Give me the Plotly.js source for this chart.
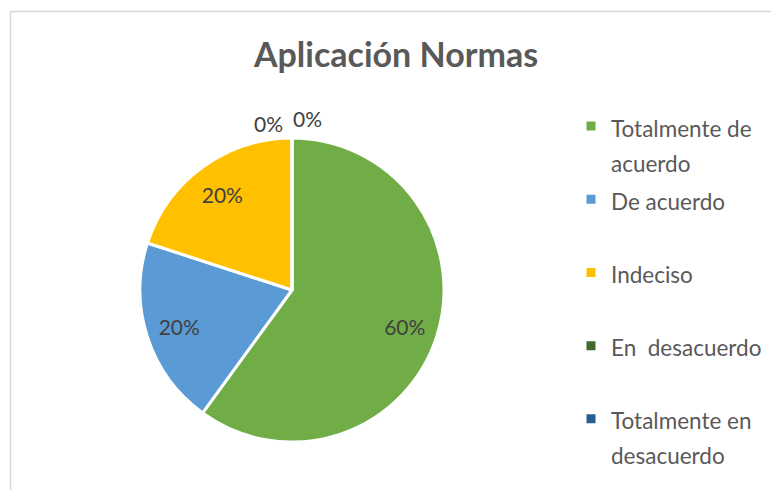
<!DOCTYPE html>
<html>
<head>
<meta charset="utf-8">
<script src="https://cdn.plot.ly/plotly-3.0.1.min.js"></script>
<style>html,body{margin:0;padding:0;background:#fff}#chart{width:771px;height:490px}</style>
</head>
<body>
<div id="chart"></div>
<script>
const categories = ["Totalmente de<br>acuerdo", "De acuerdo", "Indeciso", "En  desacuerdo", "Totalmente en<br>desacuerdo"];
const values = [60, 20, 20, 0, 0];
const colors = ["#70AD47", "#5B9BD5", "#FFC000", "#43682B", "#255E91"];
const chartTitle = "Aplicación Normas";

const W = 771, H = 490;
const font = "Lato, 'Open Sans', sans-serif";
const total = values.reduce((a, b) => a + b, 0);
const pieDomain = {x: [140 / W, 444 / W], y: [1 - 442 / H, 1 - 138 / H]};

// legend labels: every entry on two lines, drawn at 22.5px inside a 27px legend font (for Excel-like spacing)
const legendLabels = categories.map(c => {
  const lines = c.split("<br>");
  while (lines.length < 2) lines.push("&nbsp;");
  return lines.map(l => "<span style=\"font-size:22.5px\">" + l + "</span>").join("<br>");
});

const pie = {
  type: "pie",
  labels: legendLabels,
  values: values,
  sort: false,
  direction: "clockwise",
  rotation: 0,
  marker: {colors: colors, line: {color: "#ffffff", width: 3}},
  textinfo: "none",
  hoverinfo: "skip",
  domain: pieDomain
};

// transparent ring carrying the data labels at ~0.78 of the radius
const labelRing = {
  type: "pie",
  labels: legendLabels,
  values: values,
  sort: false,
  direction: "clockwise",
  rotation: 0,
  hole: 0.56,
  showlegend: false,
  marker: {colors: values.map(() => "rgba(0,0,0,0)"), line: {width: 0}},
  texttemplate: "%{percent:.0%}",
  textposition: values.map(v => v > 0 ? "inside" : "none"),
  insidetextorientation: "horizontal",
  textfont: {family: font, size: 21, color: "#404040"},
  hoverinfo: "skip",
  domain: pieDomain
};

// labels of the zero slices, set side by side above the top of the pie as in the original
const zeroPos = [[268 / W, 1 - 124 / H], [307 / W, 1 - 118 / H]];
const zeroIdx = values.map((v, i) => v === 0 ? i : -1).filter(i => i >= 0);
const annotations = zeroIdx.map((idx, k) => ({
  xref: "paper", yref: "paper", x: zeroPos[k][0], y: zeroPos[k][1],
  xanchor: "center", yanchor: "middle", showarrow: false,
  text: Math.round(values[idx] / total * 100) + "%",
  font: {family: font, size: 21, color: "#404040"}
}));

const layout = {
  width: W, height: H,
  margin: {l: 0, r: 0, t: 0, b: 0},
  paper_bgcolor: "#ffffff",
  showlegend: true,
  title: {text: "<b>" + chartTitle + "</b>", font: {family: font, size: 34, color: "#595959"}, x: 396 / W, xanchor: "center", y: 1 - 55 / H, yanchor: "middle"},
  legend: {
    x: 571 / W, xanchor: "left", y: 1 - 102 / H, yanchor: "top",
    font: {family: font, size: 27, color: "#595959"},
    valign: "top", itemwidth: 30
  },
  annotations: annotations,
  shapes: [{type: "rect", xref: "paper", yref: "paper", x0: 10.5 / W, x1: 1.05, y0: -0.05, y1: 1 - 11.5 / H, line: {color: "#d9d9d9", width: 1.5}}]
};

Plotly.newPlot("chart", [pie, labelRing], layout, {displayModeBar: false, staticPlot: true});
</script>
</body>
</html>
